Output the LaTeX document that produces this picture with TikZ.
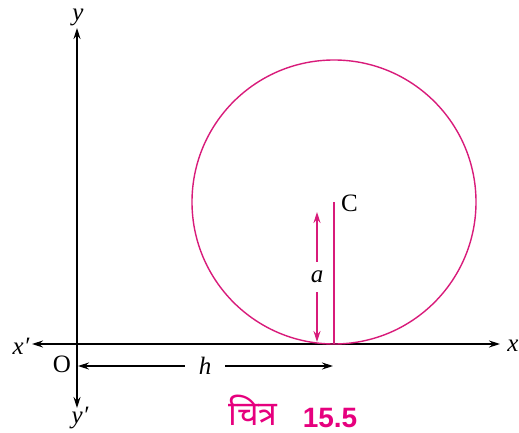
\documentclass[tikz,border=0pt]{standalone}
\usepackage{fontspec}
\usetikzlibrary{arrows.meta}
\setmainfont{Liberation Serif}
\newfontfamily\devfont[Script=Devanagari]{Noto Sans}
\newfontfamily\capsans{Liberation Sans}
\definecolor{circpink}{RGB}{216,27,122}
\definecolor{cappink}{RGB}{230,0,126}
\begin{document}
\begin{tikzpicture}[x=1pt,y=-1pt,
  ax/.style={line width=1.4pt,-{Stealth[length=11pt,width=7pt]}},
  pk/.style={line width=1.4pt,circpink},
  lbl/.style={font=\fontsize{25}{30}\selectfont,inner sep=0pt}]
\useasboundingbox (0,0) rectangle (519,433);
\coordinate (O) at (77,344);
\coordinate (Xr) at (500,344);
\coordinate (Xl) at (32,344);
\coordinate (Yt) at (77,28);
\coordinate (Yb) at (77,408);
\coordinate (C) at (334,202);
\coordinate (T) at (334,344);
\coordinate (At) at (317,212);
\coordinate (Ab) at (317,342);
\coordinate (Hl) at (78,366);
\coordinate (Hr) at (333,366);
% axes
\draw[ax] (O) -- (Xr);
\draw[ax] (O) -- (Xl);
\draw[ax] (O) -- (Yt);
\draw[ax] (O) -- (Yb);
% circle
\draw[pk] (C) circle[radius=142];
\draw[pk] (C) -- (T);
% a arrow
\draw[pk,{Stealth[length=11pt,width=7pt]}-{Stealth[length=11pt,width=7pt]}] (At) -- (Ab);
\node[lbl,fill=white,inner ysep=9pt,inner xsep=3pt] (alab) at (317,277) {\itshape a};
% h arrow
\node[lbl,fill=white,inner xsep=14pt,anchor=base] (hlab) at (205,374) {\itshape h};
\draw[line width=1.2pt,-{Stealth[length=11pt,width=7pt]}] (hlab.west |- Hl) -- (Hl);
\draw[line width=1.2pt,-{Stealth[length=11pt,width=7pt]}] (hlab.east |- Hr) -- (Hr);
% labels
\node[lbl,anchor=base] (ylab) at (78,21) {\itshape y};
\node[lbl] (yplab) at (80,418) {\itshape y′};
\node[lbl] (xlab) at (513,346) {\itshape x};
\node[lbl] (xplab) at (21,346) {\itshape x′};
\node[lbl] (Olab) at (62,364) {O};
\node[lbl,anchor=west] (Clab) at (341,203) {C};
% caption
\node[inner sep=0pt,anchor=base,text depth=0pt,text=cappink,font=\devfont\bfseries\fontsize{34}{40}\selectfont] (cap1) at (253,425) {चित्र};
\node[inner sep=0pt,anchor=base,text depth=0pt,text=cappink,font=\capsans\bfseries\fontsize{28}{32}\selectfont] (cap2) at (330,427) {15.5};
\end{tikzpicture}
\end{document}
